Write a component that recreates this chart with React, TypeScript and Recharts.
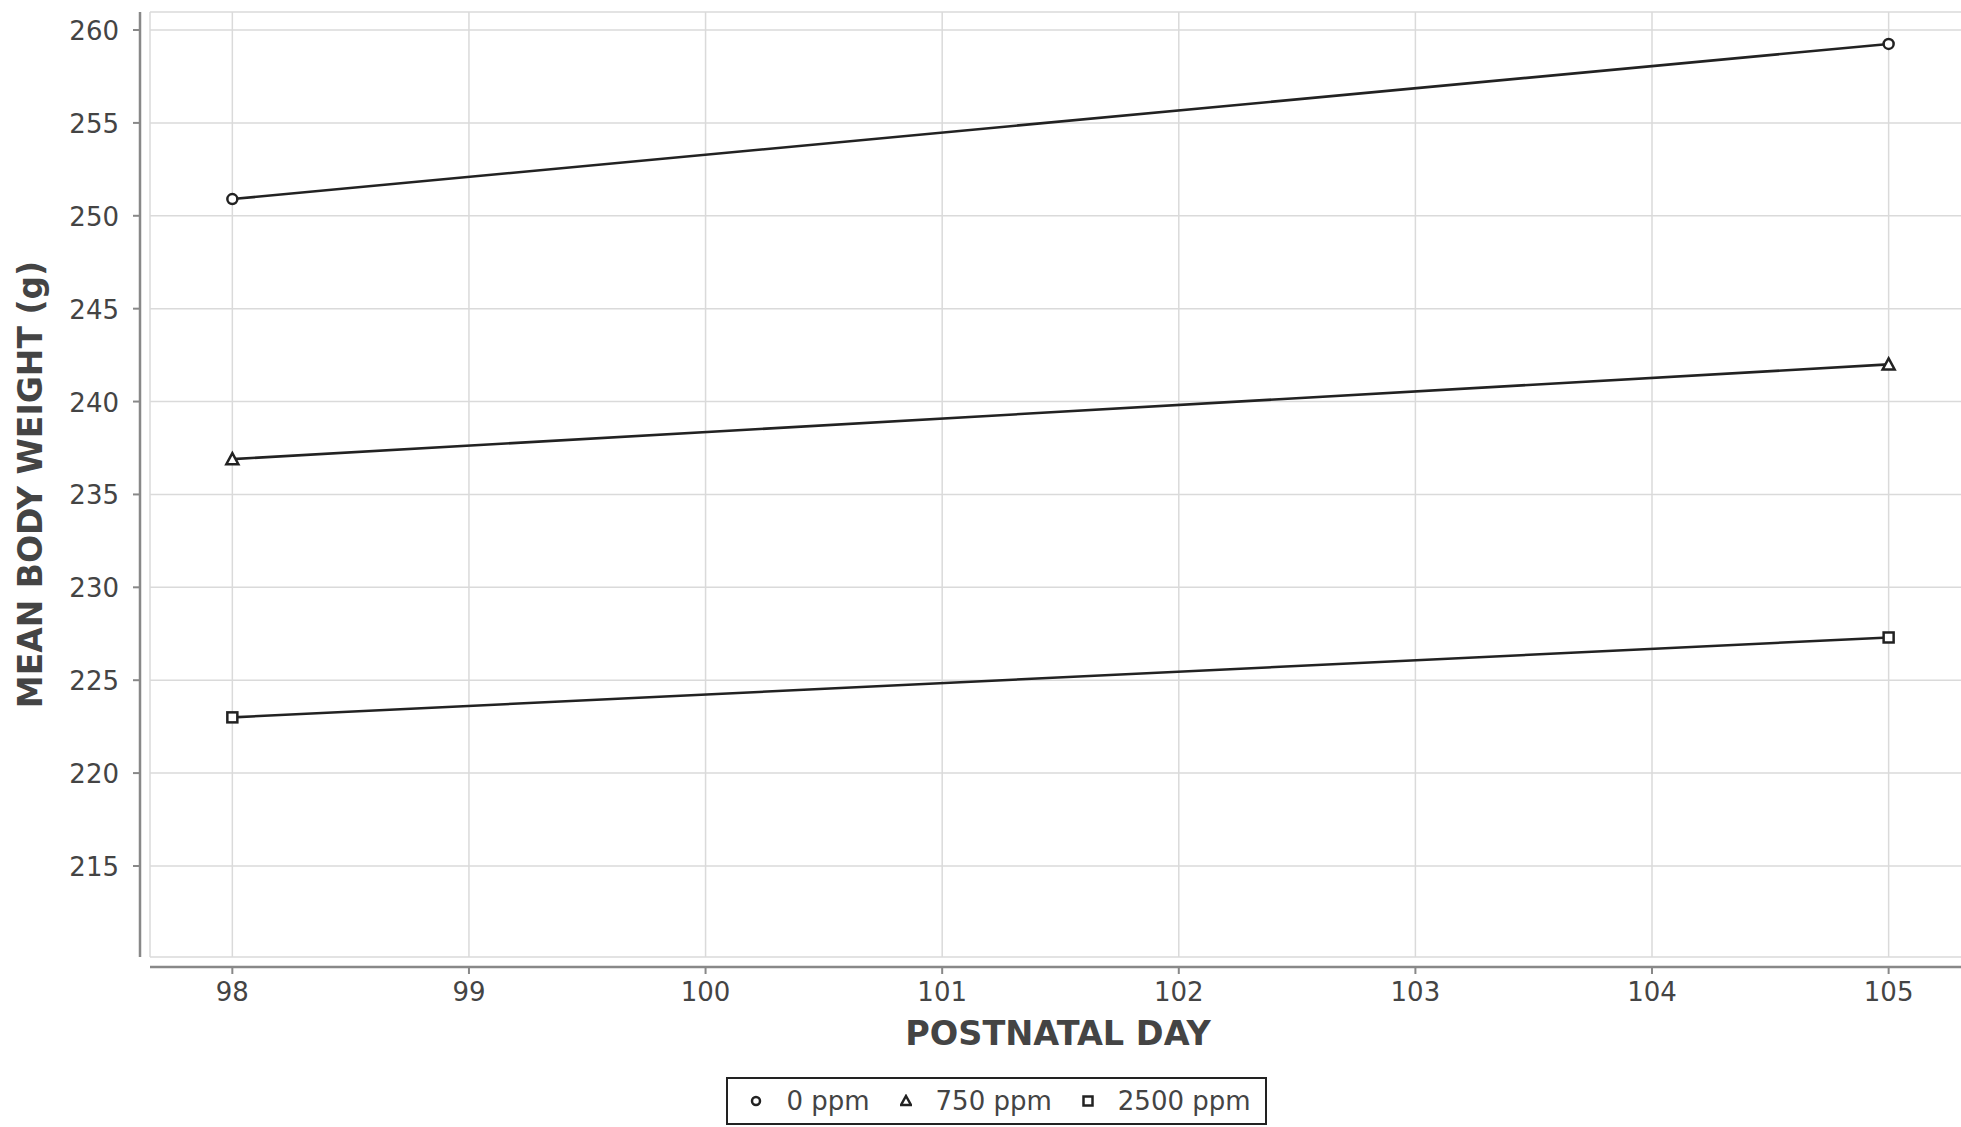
import { CartesianGrid, Legend, Line, LineChart, ReferenceArea, XAxis, YAxis } from "recharts"

// postnatal days with measurements
const days = [98, 105]
// mean body weight (g) for each dose group
const ppm0 = [250.9, 259.25]
const ppm750 = [236.9, 242.0]
const ppm2500 = [223.0, 227.3]
const seriesNames = ["0 ppm", "750 ppm", "2500 ppm"]

const xTicks = [98, 99, 100, 101, 102, 103, 104, 105]
const yTicks = [215, 220, 225, 230, 235, 240, 245, 250, 255, 260]

const data = days.map((d, i) => ({ day: d, a: ppm0[i], b: ppm750[i], c: ppm2500[i] }))

const FONT = "'DejaVu Sans', sans-serif"
const TEXT = "#444"
const AXIS = "#888"
const INK = "#222"

const XTick = ({ x, y, payload }) => (
  <g>
    <line x1={x} x2={x} y1={y + 10} y2={y + 17} stroke={AXIS} strokeWidth={2} />
    <text x={x} y={y + 44} textAnchor="middle" fill={TEXT} fontSize={26} fontFamily={FONT}>
      {payload.value}
    </text>
  </g>
)

const YTick = ({ x, y, payload }) => (
  <g>
    <line x1={x - 17} x2={x - 10} y1={y} y2={y} stroke={AXIS} strokeWidth={2} />
    <text x={x - 31} y={y + 10} textAnchor="end" fill={TEXT} fontSize={26} fontFamily={FONT}>
      {payload.value}
    </text>
  </g>
)

const CircleDot = ({ cx, cy }) => (
  <circle cx={cx} cy={cy} r={5} fill="#fff" stroke={INK} strokeWidth={2.5} />
)

const TriangleDot = ({ cx, cy }) => (
  <polygon
    points={`${cx},${cy - 6} ${cx + 6},${cy + 5} ${cx - 6},${cy + 5}`}
    fill="#fff"
    stroke={INK}
    strokeWidth={2.5}
  />
)

const SquareDot = ({ cx, cy }) => (
  <rect x={cx - 5} y={cy - 5} width={10} height={10} fill="#fff" stroke={INK} strokeWidth={2.5} />
)

const legendIcons = [
  <circle cx={6} cy={7} r={4} fill="#fff" stroke={INK} strokeWidth={2.5} />,
  <polygon points="6,2 11,11 1,11" fill="#fff" stroke={INK} strokeWidth={2.5} />,
  <rect x={1.5} y={2.5} width={9} height={9} fill="#fff" stroke={INK} strokeWidth={2.5} />,
]

const renderLegend = () => (
  <div style={{ display: "flex", justifyContent: "center", paddingLeft: 32 }}>
    <div
      style={{
        display: "flex",
        alignItems: "center",
        height: 44,
        border: `2px solid ${INK}`,
        padding: "0 14px 0 22px",
        fontFamily: FONT,
        fontSize: 26,
        color: TEXT,
        background: "#fff",
      }}
    >
      {seriesNames.map((name, i) => (
        <div key={name} style={{ display: "flex", alignItems: "center", marginLeft: i === 0 ? 0 : 30 }}>
          <svg width={12} height={14} style={{ marginRight: 24 }}>
            {legendIcons[i]}
          </svg>
          <span>{name}</span>
        </div>
      ))}
    </div>
  </div>
)

const App = () => {
  return (
    <div style={{ position: "absolute", left: 0, top: 0 }}>
      <LineChart width={1961} height={1127} data={data} margin={{ top: 12, right: -5, bottom: 2, left: 0 }}>
        <CartesianGrid stroke="#dadada" strokeWidth={1.5} />
        <ReferenceArea fill="none" stroke={AXIS} strokeWidth={2.5} fillOpacity={0} />
        <XAxis
          dataKey="day"
          type="number"
          domain={[97.652, 105.327]}
          allowDataOverflow
          ticks={xTicks}
          height={120}
          tickSize={0}
          tickMargin={0}
          tickLine={false}
          tick={XTick}
          axisLine={{ stroke: AXIS, strokeWidth: 2.5, transform: "translate(0, 10)" }}
          label={{
            content: ({ viewBox }) => (
              <text
                x={viewBox.x + viewBox.width / 2}
                y={viewBox.y + 88}
                textAnchor="middle"
                fill={TEXT}
                fontSize={33.5}
                fontWeight="bold"
                fontFamily={FONT}
              >
                POSTNATAL DAY
              </text>
            ),
          }}
        />
        <YAxis
          type="number"
          domain={[210.1, 260.97]}
          allowDataOverflow
          ticks={yTicks}
          width={150}
          tickSize={0}
          tickMargin={0}
          tickLine={false}
          tick={YTick}
          axisLine={{ stroke: AXIS, strokeWidth: 2.5, transform: "translate(-10, 0)" }}
          label={{
            content: ({ viewBox }) => {
              const cy = viewBox.y + viewBox.height / 2
              return (
                <text
                  x={42}
                  y={cy}
                  transform={`rotate(-90, 42, ${cy})`}
                  textAnchor="middle"
                  fill={TEXT}
                  fontSize={33}
                  fontWeight="bold"
                  fontFamily={FONT}
                >
                  MEAN BODY WEIGHT (g)
                </text>
              )
            },
          }}
        />
        <Legend verticalAlign="bottom" content={renderLegend} wrapperStyle={{ left: 0, width: 1961, bottom: 2 }} />
        <Line dataKey="a" name={seriesNames[0]} stroke={INK} strokeWidth={2.6} dot={CircleDot} isAnimationActive={false} />
        <Line dataKey="b" name={seriesNames[1]} stroke={INK} strokeWidth={2.6} dot={TriangleDot} isAnimationActive={false} />
        <Line dataKey="c" name={seriesNames[2]} stroke={INK} strokeWidth={2.6} dot={SquareDot} isAnimationActive={false} />
      </LineChart>
    </div>
  )
}

export default App
